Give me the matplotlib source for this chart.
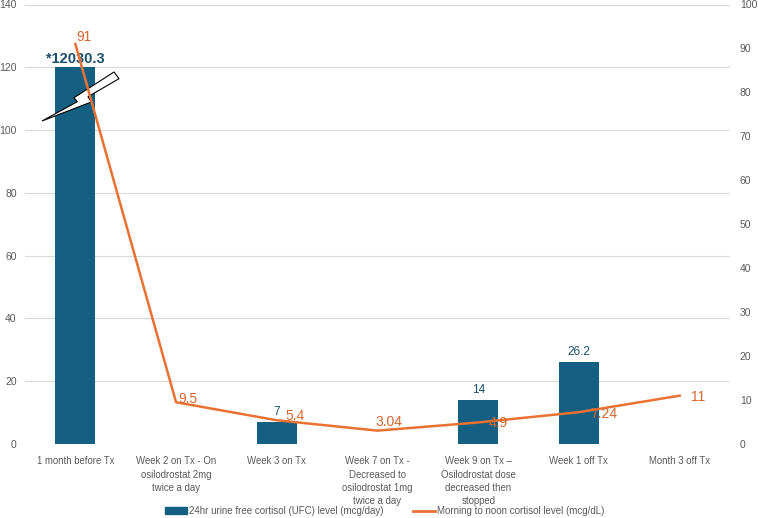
import numpy as np
import matplotlib
matplotlib.use("Agg")
import matplotlib.pyplot as plt
from matplotlib.patches import Polygon, Patch
from matplotlib.lines import Line2D

plt.rcParams['font.family'] = ['Liberation Sans', 'DejaVu Sans']

categories = ["1 month before Tx",
              "Week 2 on Tx - On\nosilodrostat 2mg\ntwice a day",
              "Week 3 on Tx",
              "Week 7 on Tx -\nDecreased to\nosilodrostat 1mg\ntwice a day",
              "Week 9 on Tx \u2013\nOsilodrostat dose\ndecreased then\nstopped",
              "Week 1 off Tx",
              "Month 3 off Tx"]
ufc_actual = [12030.3, np.nan, 7, np.nan, 14, 26.2, np.nan]
ufc_cap = 120
morning_cortisol = [91, 9.5, 5.4, 3.04, 4.9, 7.24, 11]
left_ticks = [0, 20, 40, 60, 80, 100, 120, 140]
right_ticks = [0, 10, 20, 30, 40, 50, 60, 70, 80, 90, 100]

BAR = "#156082"
BAR_TXT = "#1B4F6E"
ORANGE = "#E97132"
ORANGE_TXT = "#D8652C"
GRAY = "#595959"

fig = plt.figure(figsize=(7.58, 5.18), dpi=100)
ax = fig.add_axes([25/758, 1-444/518, 705/758, 439.5/518])
ax2 = ax.twinx()

x = np.arange(len(categories))
ufc_display = [min(v, ufc_cap) if not np.isnan(v) else 0 for v in ufc_actual]
bars = ax.bar(x, ufc_display, width=0.4, color=BAR, zorder=2)

ax.set_xlim(-0.5, len(categories)-0.5)
ax.set_ylim(0, 140)
ax.set_yticks(left_ticks)
ax.grid(axis='y', color='#D9D9D9', linewidth=0.8, zorder=0)
ax.set_axisbelow(True)
for s in ax.spines.values():
    s.set_visible(False)
for s in ax2.spines.values():
    s.set_visible(False)
ax.tick_params(axis='y', length=0, pad=6, labelsize=7.5, labelcolor=GRAY)
ax.tick_params(axis='x', length=0, pad=9, labelsize=6.9, labelcolor=GRAY)
ax.set_xticks(x)
ax.set_xticklabels(categories, linespacing=1.38)

# bar labels
for i, v in enumerate(ufc_actual):
    if np.isnan(v):
        continue
    if v > ufc_cap:
        ax.annotate("*" + f"{v:g}", (x[i], ufc_cap), xytext=(0, 1), textcoords='offset pixels',
                    ha='center', va='bottom', fontsize=10.5, fontweight='bold', color=BAR_TXT,
                    zorder=5)
    else:
        ax.annotate(f"{v:g}", (x[i], v), xytext=(0, 4), textcoords='offset pixels',
                    ha='center', va='bottom', fontsize=8.5, color=BAR_TXT, zorder=5)

# break symbol (lightning bolt) on the first bar
bolt_px = [(42, 121), (77.3, 101.7), (74, 97.7), (114, 72), (119, 78.7), (88, 96.7), (91.3, 102)]
bolt = Polygon([(px/758, 1-py/518) for px, py in bolt_px], closed=True,
               transform=fig.transFigure, facecolor='white', edgecolor='black',
               linewidth=0.8, zorder=3)
ax.add_patch(bolt)

ax2.set_ylim(0, 100)
ax2.set_yticks(right_ticks)
ax2.tick_params(axis='y', length=0, pad=7, labelsize=7.5, labelcolor=GRAY)
ax2.plot(x, morning_cortisol, color=ORANGE, linewidth=1.8, zorder=4)

offsets = [(1, 7), (2, 3), (9, 4), (-2, 9), (10, -1), (11, -2), (11, -1)]
for i, v in enumerate(morning_cortisol):
    dx, dy = offsets[i]
    ax2.annotate(f"{v:g}", (x[i], v), xytext=(dx, dy), textcoords='offset pixels',
                 ha='left', va='center', fontsize=10, color=ORANGE_TXT, zorder=5)

handles = [Patch(facecolor=BAR, edgecolor=BAR),
           Line2D([0], [0], color=ORANGE, linewidth=2)]
labels = ["24hr urine free cortisol (UFC) level (mcg/day)",
          "Morning to noon cortisol level (mcg/dL)"]
fig.legend(handles, labels, loc='center', bbox_to_anchor=(385/758, 1-511/518), ncol=2,
           frameon=False, fontsize=7, labelcolor=GRAY, handlelength=2.2, handleheight=0.7,
           columnspacing=3.0, handletextpad=0.3)

fig.savefig("out.png", dpi=100)
